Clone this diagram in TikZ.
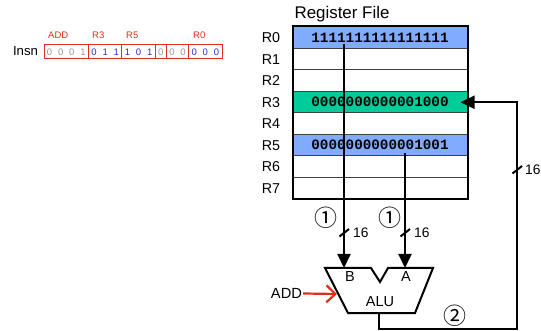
\documentclass[tikz,border=0pt]{standalone}
\usepackage{fontspec}
\setmainfont{Liberation Sans}
\newfontfamily\regmono{Liberation Mono}
\newfontfamily\symfont{Noto Sans CJK SC}
\usetikzlibrary{arrows.meta}

\definecolor{regblue}{RGB}{128,172,255}
\definecolor{regteal}{RGB}{0,204,153}
\definecolor{fieldred}{RGB}{225,45,25}
\definecolor{bitblue}{RGB}{45,45,215}
\definecolor{bitgray}{RGB}{150,150,150}

\tikzset{
  regrow/.style={draw=black!75, line width=1, minimum width=174, minimum height=21.5,
    inner sep=0, font=\regmono\bfseries\fontsize{14.3}{16}\selectfont},
  reglabel/.style={font=\fontsize{14.3}{16}\selectfont},
  bus/.style={line width=2, -{Triangle[length=14,width=13]}},
  busslash/.style={line width=2},
  widthlabel/.style={anchor=west, inner sep=0, font=\fontsize{13.8}{16}\selectfont},
  stepmark/.style={inner sep=0, font=\symfont\fontsize{23}{25}\selectfont},
  bitdigit/.style={inner sep=0, font=\fontsize{9.5}{11}\selectfont},
  fieldbox/.style={draw=fieldred, line width=1},
  fieldname/.style={anchor=west, inner sep=0, text=fieldred, font=\fontsize{9.5}{11}\selectfont},
  alulabel/.style={inner sep=0, font=\fontsize{14.5}{16}\selectfont},
}

\begin{document}
\begin{tikzpicture}[x=1pt, y=-1pt]
\useasboundingbox (0,0) rectangle (541,331);

% ---------- instruction word ----------
\node[inner sep=0, font=\fontsize{13.2}{15}\selectfont] (insn) at (25.5,51.5) {Insn};
\foreach \b/\c [count=\i from 0] in {0/bitgray,0/bitgray,0/bitgray,1/bitgray,
    0/bitblue,1/bitblue,1/bitblue,1/bitblue,0/bitblue,1/bitblue,
    0/bitgray,0/bitgray,0/bitgray,0/bitblue,0/bitblue,0/bitblue}
  \node[bitdigit, text=\c] (b\i) at ({44+11.125*(\i+0.5)},52) {\b};
\foreach \s/\e in {0/4,4/7,7/10,10/11,11/13,13/16}
  \draw[fieldbox] ({44+11.125*\s},45) rectangle ({44+11.125*\e},59);
\node[fieldname] (fadd) at (48,35) {ADD};
\node[fieldname] (fr3) at (92,35) {R3};
\node[fieldname] (fr5) at (126,35) {R5};
\node[fieldname] (fr0) at (193,35) {R0};

% ---------- register file ----------
\node[inner sep=0, font=\fontsize{16.9}{19}\selectfont] (rftitle) at (342,14) {Register File};
\node[regrow, fill=regblue] (r0) at (380,37.75) {1111111111111111};
\node[regrow] (r1) at (380,59.25) {};
\node[regrow] (r2) at (380,80.75) {};
\node[regrow, fill=regteal] (r3) at (380,102.25) {0000000000001000};
\node[regrow] (r4) at (380,123.75) {};
\node[regrow, fill=regblue] (r5) at (380,145.25) {0000000000001001};
\node[regrow] (r6) at (380,166.75) {};
\node[regrow] (r7) at (380,188.25) {};
\draw[line width=2] (r0.north west) rectangle (r7.south east);
\foreach \k in {0,...,7}
  \node[reglabel] (l\k) at (271,{37.75+21.5*\k}) {R\k};

% ---------- ALU ----------
\draw[line width=2, fill=white] (325,268) -- (371,268) -- (380,282) -- (388,268)
  -- (433,268) -- (415,313) -- (348,313) -- cycle;
\coordinate (aluB) at (344,268);
\coordinate (aluA) at (405,268);
\coordinate (aluOut) at (379,313);
\coordinate (aluCtl) at (337,294);
\node[alulabel] (lb) at (350,277) {B};
\node[alulabel] (la) at (406,277) {A};
\node[alulabel] (lalu) at (380,302) {ALU};

% ---------- read ports ----------
\coordinate (r0tap) at (344,44);
\coordinate (r5tap) at (405,153);
\draw[bus] (r0tap) -- (aluB);
\draw[bus] (r5tap) -- (aluA);
\draw[busslash] (339.5,236.5) -- (349,229);
\draw[busslash] (400.5,236.5) -- (410,229);
\node[widthlabel] (w1) at (353,233) {16};
\node[widthlabel] (w2) at (414,233) {16};
\node[stepmark] (s1) at (326,218) {①};
\node[stepmark] (s2) at (390,218) {①};

% ---------- write-back ----------
\coordinate (r3in) at ([xshift=-7]r3.east);
\draw[bus] (aluOut) -- (379,329) -- (517,329) -- (517,102.25) -- (r3in);
\draw[busslash] (512.5,173.5) -- (522,166);
\node[widthlabel] (w3) at (525,170) {16};
\node[stepmark] (s3) at (455,316) {②};

% ---------- ALU control ----------
\node[inner sep=0, font=\fontsize{14.7}{16}\selectfont] (ctl) at (286.5,293.5) {ADD};
\draw[line width=2.2, draw=fieldred, -{Straight Barb[length=9,width=17]}] ([xshift=1]ctl.east) -- (aluCtl);
\end{tikzpicture}
\end{document}
